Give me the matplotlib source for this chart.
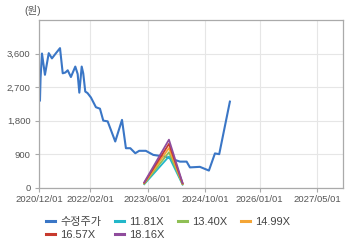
import matplotlib
matplotlib.use("Agg")
import matplotlib.pyplot as plt
from matplotlib.ticker import FuncFormatter
import pandas as pd

plt.rcParams['font.family'] = ['Liberation Sans', 'Noto Sans CJK KR', 'DejaVu Sans']

# adjusted price (수정주가)
price_dates = ["2020-12-05", "2020-12-10", "2020-12-22", "2021-01-16", "2021-02-17",
               "2021-03-16", "2021-04-19", "2021-05-23", "2021-06-15", "2021-07-07",
               "2021-07-27", "2021-08-23", "2021-09-29", "2021-10-19", "2021-11-02",
               "2021-11-22", "2021-12-05", "2021-12-22", "2022-01-10", "2022-02-08",
               "2022-03-22", "2022-04-25", "2022-05-23", "2022-06-29", "2022-09-01",
               "2022-10-28", "2022-11-30", "2023-01-06", "2023-02-17", "2023-03-22",
               "2023-05-17", "2023-07-19", "2023-10-25", "2024-01-18", "2024-02-29",
               "2024-04-25", "2024-05-23", "2024-08-15", "2024-10-30", "2024-12-20",
               "2025-01-25", "2025-04-25"]
price_vals = [2340, 2950, 3600, 3030, 3610,
              3470, 3610, 3745, 3070, 3090,
              3150, 2970, 3250, 3050, 2550,
              3250, 3070, 2580, 2540, 2420,
              2160, 2120, 1800, 1780, 1240,
              1820, 1060, 1060, 925, 990,
              990, 880, 835, 745, 700,
              700, 545, 560, 460, 920,
              900, 2310]

# PER band lines
band_dates = ["2023-05-04", "2023-11-28", "2024-03-22"]
band_labels = ["11.81X", "13.40X", "14.99X", "16.57X", "18.16X"]
band_11_81 = [95, 838, 83]
band_13_40 = [108, 951, 94]
band_14_99 = [121, 1064, 105]
band_16_57 = [134, 1176, 116]
band_18_16 = [146, 1289, 127]

xtick_labels = ["2020/12/01", "2022/02/01", "2023/06/01", "2024/10/01", "2026/01/01", "2027/05/01"]
ytick_vals = [0, 900, 1800, 2700, 3600]

colors = ["#3a76c6", "#22b7c9", "#8fbf55", "#f4a536", "#c73a2e", "#8f4c9c"]

fig = plt.figure(figsize=(3.6, 2.48), dpi=100)
ax = fig.add_axes([0.1097, 0.2431, 0.8417, 0.6763])

lines = []
lines += ax.plot(pd.to_datetime(price_dates), price_vals, color=colors[0], lw=1.5, label="수정주가")
bd = pd.to_datetime(band_dates)
for vals, lab, c in zip([band_11_81, band_13_40, band_14_99, band_16_57, band_18_16],
                        band_labels, colors[1:]):
    lines += ax.plot(bd, vals, color=c, lw=1.3, label=lab)

ax.set_xlim(pd.Timestamp("2020-12-01"), pd.Timestamp("2027-12-01"))
ax.set_ylim(0, 4500)
ax.set_xticks(pd.to_datetime([s.replace("/", "-") for s in xtick_labels]))
ax.set_xticklabels(xtick_labels)
ax.set_yticks(ytick_vals)
ax.yaxis.set_major_formatter(FuncFormatter(lambda v, p: f"{int(v):,}"))

ax.grid(True, color="#e6e6e6", lw=0.8)
ax.set_axisbelow(True)
for s in ax.spines.values():
    s.set_color("#aaaaaa")
    s.set_linewidth(0.9)
ax.tick_params(length=3, width=0.8, color="#aaaaaa", labelsize=6.8,
               labelcolor="#555555", pad=2)
ax.tick_params(axis="y", pad=3.5)

fig.text(24 / 360, 1 - 11 / 248, "(원)", fontsize=7.5, color="#555555",
         ha="left", va="center")

# legend fills column-first, reorder so rows read left to right
order = [0, 4, 1, 5, 2, 3]
leg = fig.legend([lines[i] for i in order], [lines[i].get_label() for i in order],
                 loc="upper left", bbox_to_anchor=(46 / 360, 1 - 217 / 248), ncol=4,
                 frameon=False, fontsize=8, handlelength=0.8, handletextpad=0.5,
                 columnspacing=1.2, labelspacing=0.3, borderaxespad=0, borderpad=0,
                 labelcolor="#444444")
for h in leg.legend_handles:
    h.set_linewidth(2.2)

fig.savefig("out.png", dpi=100)
